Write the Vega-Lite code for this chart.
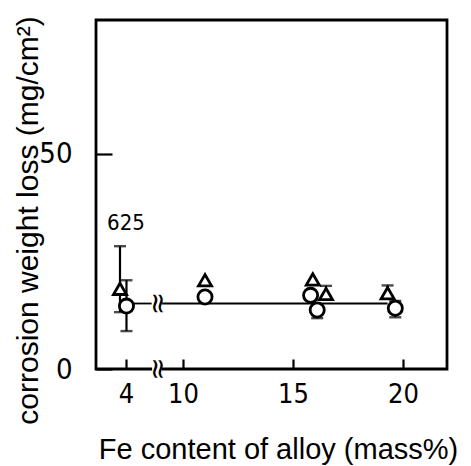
{
  "$schema": "https://vega.github.io/schema/vega-lite/v6.json",
  "width": 351,
  "height": 349,
  "autosize": "none",
  "padding": {"left": 96, "top": 20, "right": 24, "bottom": 97},
  "background": "white",
  "config": {
    "view": {"stroke": "black", "strokeWidth": 2.8},
    "axis": {"grid": false, "domain": false, "labelColor": "black", "titleColor": "black", "tickColor": "black", "labelFont": "Liberation Sans Narrow, DejaVu Sans Condensed, sans-serif", "titleFont": "Liberation Sans, Arial, sans-serif", "titleFontWeight": "normal"}
  },
  "datasets": {
    "points": [
      {"fe": 3.72, "loss": 18.6, "series": "triangle"},
      {"fe": 4.05, "loss": 14.6, "series": "circle"},
      {"fe": 11.0, "loss": 20.6, "series": "triangle"},
      {"fe": 11.0, "loss": 16.7, "series": "circle"},
      {"fe": 15.9, "loss": 20.8, "series": "triangle"},
      {"fe": 15.8, "loss": 17.1, "series": "circle"},
      {"fe": 16.5, "loss": 17.4, "series": "triangle"},
      {"fe": 16.1, "loss": 13.7, "series": "circle"},
      {"fe": 19.3, "loss": 17.6, "series": "triangle"},
      {"fe": 19.65, "loss": 14.1, "series": "circle"}
    ],
    "errors": [
      {"fe": 3.72, "lo": 13.2, "hi": 28.5},
      {"fe": 4.05, "lo": 8.8, "hi": 20.6},
      {"fe": 16.1, "lo": 11.8, "hi": 15.0},
      {"fe": 16.5, "lo": 16.6, "hi": 19.3},
      {"fe": 19.3, "lo": 16.8, "hi": 19.4},
      {"fe": 19.65, "lo": 12.0, "hi": 15.8}
    ],
    "trend": [
      {"x1": 4.05, "x2": 6.7, "y": 15.2},
      {"x1": 7.8, "x2": 19.3, "y": 15.2}
    ],
    "breaks": [
      {"fe": 7.26, "loss": 15.2, "sym": "≈"},
      {"fe": 7.26, "loss": 0, "sym": "≈"}
    ],
    "gaps": [
      {"x1": 6.75, "x2": 7.75, "y1": -1.2, "y2": 1.2}
    ],
    "notes": [
      {"fe": 4.0, "loss": 33.8, "text": "625"}
    ]
  },
  "layer": [
    {
      "data": {"name": "trend"},
      "mark": {"type": "rule", "color": "black", "strokeWidth": 1.8},
      "encoding": {
        "x": {"field": "x1", "type": "quantitative",
          "scale": {"domain": [2.6, 4, 10, 22], "range": [0, 30, 87, 351], "nice": false, "zero": false},
          "axis": {"values": [4, 10, 15, 20], "tickSize": -10, "tickWidth": 2.2, "labelPadding": 22, "labelFontSize": 27,
            "title": "Fe content of alloy (mass%)", "titleFontSize": 29, "titleX": 182, "titleY": 89, "titleBaseline": "alphabetic", "titleAlign": "center"}},
        "x2": {"field": "x2"},
        "y": {"field": "y", "type": "quantitative",
          "scale": {"domain": [0, 81], "nice": false, "zero": true},
          "axis": {"values": [0, 50], "tickSize": -16, "tickWidth": 2.2, "labelPadding": 40, "labelFontSize": 29,
            "title": "corrosion weight loss (mg/cm²)", "titleFontSize": 30, "titleAngle": -90, "titleX": -68, "titleY": 200, "titleBaseline": "middle", "titleAlign": "center"}}
      }
    },
    {
      "data": {"name": "gaps"},
      "mark": {"type": "rect", "fill": "white"},
      "encoding": {
        "x": {"field": "x1", "type": "quantitative"},
        "x2": {"field": "x2"},
        "y": {"field": "y1", "type": "quantitative"},
        "y2": {"field": "y2"}
      }
    },
    {
      "data": {"name": "breaks"},
      "mark": {"type": "text", "font": "DejaVu Sans", "fontSize": 28, "angle": 90, "color": "black", "baseline": "middle", "align": "center"},
      "encoding": {
        "x": {"field": "fe", "type": "quantitative"},
        "y": {"field": "loss", "type": "quantitative"},
        "text": {"field": "sym"}
      }
    },
    {
      "data": {"name": "errors"},
      "mark": {"type": "rule", "color": "black", "strokeWidth": 2.2},
      "encoding": {
        "x": {"field": "fe", "type": "quantitative"},
        "y": {"field": "lo", "type": "quantitative"},
        "y2": {"field": "hi"}
      }
    },
    {
      "data": {"name": "errors"},
      "mark": {"type": "tick", "orient": "horizontal", "color": "black", "size": 12, "thickness": 2.4},
      "encoding": {
        "x": {"field": "fe", "type": "quantitative"},
        "y": {"field": "lo", "type": "quantitative"}
      }
    },
    {
      "data": {"name": "errors"},
      "mark": {"type": "tick", "orient": "horizontal", "color": "black", "size": 12, "thickness": 2.4},
      "encoding": {
        "x": {"field": "fe", "type": "quantitative"},
        "y": {"field": "hi", "type": "quantitative"}
      }
    },
    {
      "data": {"name": "points"},
      "mark": {"type": "point", "filled": false, "fill": "white", "fillOpacity": 1, "stroke": "black", "strokeWidth": 2.8, "opacity": 1},
      "encoding": {
        "x": {"field": "fe", "type": "quantitative"},
        "y": {"field": "loss", "type": "quantitative"},
        "shape": {"field": "series", "type": "nominal", "scale": {"domain": ["triangle", "circle"], "range": ["triangle-up", "circle"]}, "legend": null},
        "size": {"field": "series", "type": "nominal", "scale": {"domain": ["triangle", "circle"], "range": [170, 200]}, "legend": null}
      }
    },
    {
      "data": {"name": "notes"},
      "mark": {"type": "text", "font": "Liberation Sans Narrow, DejaVu Sans Condensed, sans-serif", "fontSize": 22, "color": "black", "baseline": "middle", "align": "center"},
      "encoding": {
        "x": {"field": "fe", "type": "quantitative"},
        "y": {"field": "loss", "type": "quantitative"},
        "text": {"field": "text"}
      }
    }
  ]
}
